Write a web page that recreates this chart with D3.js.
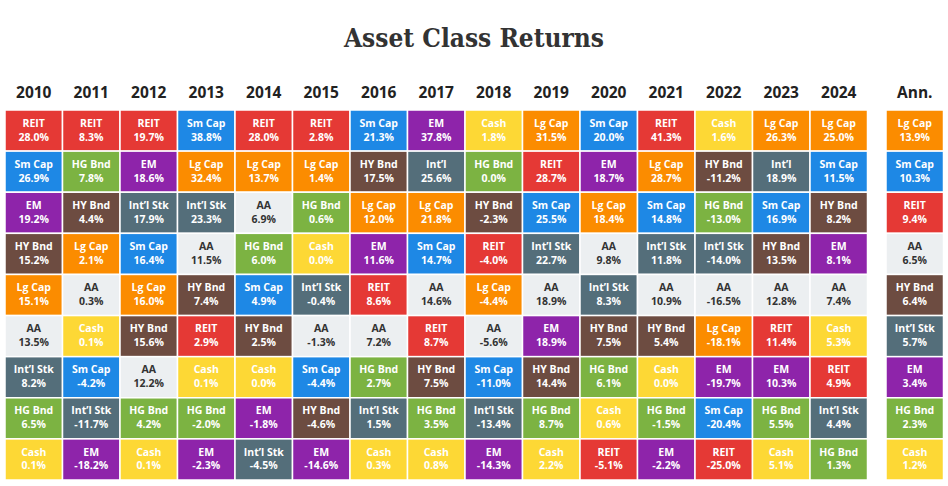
<!DOCTYPE html>
<html>
<head>
<meta charset="utf-8">
<script src="https://cdn.jsdelivr.net/npm/d3@7"></script>
<style>
  body { margin: 0; background: #fff; }
  svg { display: block; }
</style>
</head>
<body>
<script>
// years across the top, then the annualized column
const years = ["2010","2011","2012","2013","2014","2015","2016","2017","2018","2019","2020","2021","2022","2023","2024"];
const annHeader = "Ann.";

// asset names per column, best to worst
const names2010 = ["REIT","Sm Cap","EM","HY Bnd","Lg Cap","AA","Int’l Stk","HG Bnd","Cash"];
const names2011 = ["REIT","HG Bnd","HY Bnd","Lg Cap","AA","Cash","Sm Cap","Int’l Stk","EM"];
const names2012 = ["REIT","EM","Int’l Stk","Sm Cap","Lg Cap","HY Bnd","AA","HG Bnd","Cash"];
const names2013 = ["Sm Cap","Lg Cap","Int’l Stk","AA","HY Bnd","REIT","Cash","HG Bnd","EM"];
const names2014 = ["REIT","Lg Cap","AA","HG Bnd","Sm Cap","HY Bnd","Cash","EM","Int’l Stk"];
const names2015 = ["REIT","Lg Cap","HG Bnd","Cash","Int’l Stk","AA","Sm Cap","HY Bnd","EM"];
const names2016 = ["Sm Cap","HY Bnd","Lg Cap","EM","REIT","AA","HG Bnd","Int’l Stk","Cash"];
const names2017 = ["EM","Int’l","Lg Cap","Sm Cap","AA","REIT","HY Bnd","HG Bnd","Cash"];
const names2018 = ["Cash","HG Bnd","HY Bnd","REIT","Lg Cap","AA","Sm Cap","Int’l Stk","EM"];
const names2019 = ["Lg Cap","REIT","Sm Cap","Int’l Stk","AA","EM","HY Bnd","HG Bnd","Cash"];
const names2020 = ["Sm Cap","EM","Lg Cap","AA","Int’l Stk","HY Bnd","HG Bnd","Cash","REIT"];
const names2021 = ["REIT","Lg Cap","Sm Cap","Int’l Stk","AA","HY Bnd","Cash","HG Bnd","EM"];
const names2022 = ["Cash","HY Bnd","HG Bnd","Int’l Stk","AA","Lg Cap","EM","Sm Cap","REIT"];
const names2023 = ["Lg Cap","Int’l","Sm Cap","HY Bnd","AA","REIT","EM","HG Bnd","Cash"];
const names2024 = ["Lg Cap","Sm Cap","HY Bnd","EM","AA","Cash","REIT","Int’l Stk","HG Bnd"];
const namesAnn  = ["Lg Cap","Sm Cap","REIT","AA","HY Bnd","Int’l Stk","EM","HG Bnd","Cash"];

// returns in %, same order as the names
const ret2010 = [28.0,26.9,19.2,15.2,15.1,13.5,8.2,6.5,0.1];
const ret2011 = [8.3,7.8,4.4,2.1,0.3,0.1,-4.2,-11.7,-18.2];
const ret2012 = [19.7,18.6,17.9,16.4,16.0,15.6,12.2,4.2,0.1];
const ret2013 = [38.8,32.4,23.3,11.5,7.4,2.9,0.1,-2.0,-2.3];
const ret2014 = [28.0,13.7,6.9,6.0,4.9,2.5,0.0,-1.8,-4.5];
const ret2015 = [2.8,1.4,0.6,0.0,-0.4,-1.3,-4.4,-4.6,-14.6];
const ret2016 = [21.3,17.5,12.0,11.6,8.6,7.2,2.7,1.5,0.3];
const ret2017 = [37.8,25.6,21.8,14.7,14.6,8.7,7.5,3.5,0.8];
const ret2018 = [1.8,0.0,-2.3,-4.0,-4.4,-5.6,-11.0,-13.4,-14.3];
const ret2019 = [31.5,28.7,25.5,22.7,18.9,18.9,14.4,8.7,2.2];
const ret2020 = [20.0,18.7,18.4,9.8,8.3,7.5,6.1,0.6,-5.1];
const ret2021 = [41.3,28.7,14.8,11.8,10.9,5.4,0.0,-1.5,-2.2];
const ret2022 = [1.6,-11.2,-13.0,-14.0,-16.5,-18.1,-19.7,-20.4,-25.0];
const ret2023 = [26.3,18.9,16.9,13.5,12.8,11.4,10.3,5.5,5.1];
const ret2024 = [25.0,11.5,8.2,8.1,7.4,5.3,4.9,4.4,1.3];
const retAnn  = [13.9,10.3,9.4,6.5,6.4,5.7,3.4,2.3,1.2];

const namesByYear = [names2010,names2011,names2012,names2013,names2014,names2015,names2016,names2017,names2018,names2019,names2020,names2021,names2022,names2023,names2024];
const retsByYear  = [ret2010,ret2011,ret2012,ret2013,ret2014,ret2015,ret2016,ret2017,ret2018,ret2019,ret2020,ret2021,ret2022,ret2023,ret2024];

const assetColor = {
  "REIT": "#e53935", "Sm Cap": "#1e88e5", "EM": "#8e24aa", "HY Bnd": "#6d4c41",
  "Lg Cap": "#fb8c00", "AA": "#eceff1", "Int’l Stk": "#546e7a", "Int’l": "#546e7a",
  "HG Bnd": "#7cb342", "Cash": "#fdd835"
};

const W = 948, H = 486;
const svg = d3.select("body").append("svg").attr("width", W).attr("height", H);

svg.append("text")
  .attr("x", 474).attr("y", 47)
  .attr("text-anchor", "middle")
  .attr("font-family", "'DejaVu Serif Condensed', 'DejaVu Serif', serif")
  .attr("font-weight", "bold")
  .attr("font-size", 26)
  .attr("fill", "#333")
  .text("Asset Class Returns");

const x = d3.scaleBand().domain(years).range([5, 867.5]);
const xAnn = d3.scaleBand().domain([annHeader]).range([886, 943.5]);
const y = d3.scaleBand().domain(d3.range(9)).range([110, 480]);

// flatten to cells
let cells = [];
years.forEach((yr, i) => {
  namesByYear[i].forEach((n, r) => cells.push({ col: yr, x0: x(yr), w: x.bandwidth(), rank: r, name: n, val: retsByYear[i][r] }));
});
namesAnn.forEach((n, r) => cells.push({ col: annHeader, x0: xAnn(annHeader), w: xAnn.bandwidth(), rank: r, name: n, val: retAnn[r] }));

const headers = years.map(yr => ({ t: yr, cx: x(yr) + x.bandwidth() / 2 }))
  .concat([{ t: annHeader, cx: xAnn(annHeader) + xAnn.bandwidth() / 2 }]);

svg.selectAll("text.hdr")
  .data(headers)
  .enter().append("text")
  .attr("class", "hdr")
  .attr("x", d => d.cx).attr("y", 98)
  .attr("text-anchor", "middle")
  .attr("font-family", "'Open Sans', sans-serif")
  .attr("font-weight", "bold")
  .attr("font-size", 15.5)
  .attr("fill", "#222")
  .text(d => d.t);

const g = svg.selectAll("g.cell")
  .data(cells)
  .enter().append("g")
  .attr("class", "cell")
  .attr("transform", d => `translate(${d.x0},${y(d.rank)})`);

g.append("rect")
  .attr("width", d => d.w)
  .attr("height", y.bandwidth())
  .attr("fill", d => assetColor[d.name])
  .attr("stroke", "#fff")
  .attr("stroke-width", 1.5);

const txtColor = d => d.name === "AA" ? "#333" : "#fff";

g.append("text")
  .attr("x", d => d.w / 2).attr("y", 16.7)
  .attr("text-anchor", "middle")
  .attr("font-family", "'Open Sans', sans-serif")
  .attr("font-weight", "bold")
  .attr("font-size", 10.5)
  .attr("fill", txtColor)
  .text(d => d.name);

// plain hyphen for negatives, like the original
g.append("text")
  .attr("x", d => d.w / 2).attr("y", 30.5)
  .attr("text-anchor", "middle")
  .attr("font-family", "'Open Sans', sans-serif")
  .attr("font-weight", "bold")
  .attr("font-size", 10.5)
  .attr("fill", txtColor)
  .text(d => d.val.toFixed(1) + "%");
</script>
</body>
</html>
